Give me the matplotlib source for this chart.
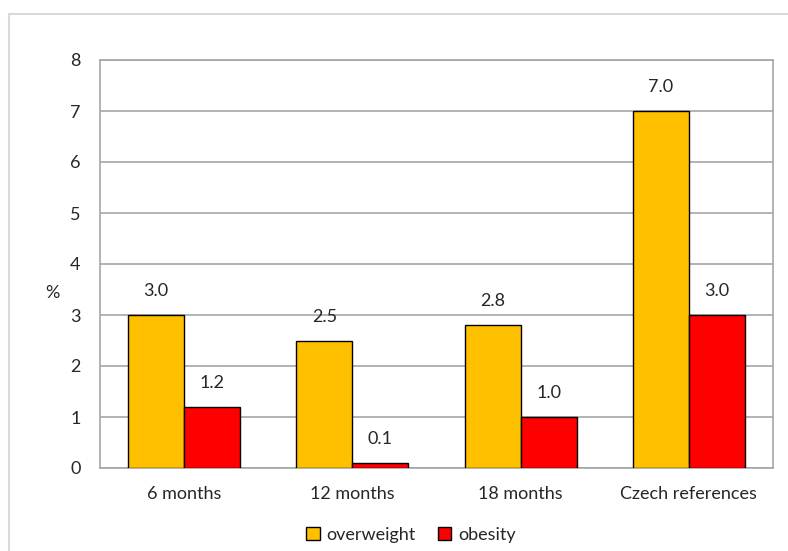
import matplotlib.pyplot as plt
import numpy as np
from matplotlib.patches import Rectangle

# dados
categorias = ["6 months", "12 months", "18 months", "Czech references"]
overweight = [3.0, 2.5, 2.8, 7.0]
obesity = [1.2, 0.1, 1.0, 3.0]
yticks = [0, 1, 2, 3, 4, 5, 6, 7, 8]

plt.rcParams['font.family'] = ['Lato', 'DejaVu Sans']
cor_texto = '#262626'
fs = 13

fig = plt.figure(figsize=(7.88, 5.51), dpi=100)
ax = fig.add_axes([100 / 788, 1 - 468 / 551, 673 / 788, 408 / 551])

# moldura cinza da figura
fig.patches.append(Rectangle((9 / 788, -0.01), 1.0, 1 - 14 / 551 + 0.01,
                             transform=fig.transFigure, fill=False,
                             edgecolor='#d9d9d9', linewidth=1.5))

x = np.arange(len(categorias))
w = 1 / 3
b1 = ax.bar(x - w / 2, overweight, w, color='#FFC000', edgecolor='black',
            linewidth=1, label='overweight', zorder=3)
b2 = ax.bar(x + w / 2, obesity, w, color='#FF0000', edgecolor='black',
            linewidth=1, label='obesity', zorder=3)

for barras in (b1, b2):
    for r in barras:
        ax.text(r.get_x() + r.get_width() / 2, r.get_height() + 0.47,
                f"{r.get_height():.1f}", ha='center', va='center',
                fontsize=fs, color=cor_texto)

ax.set_xlim(-0.5, 3.5)
ax.set_ylim(0, 8)
ax.set_yticks(yticks)
ax.set_xticks(x)
ax.set_xticklabels(categorias)
ax.tick_params(axis='both', length=0, labelsize=fs, colors=cor_texto)
ax.tick_params(axis='x', pad=13)
ax.tick_params(axis='y', pad=14)
ax.yaxis.grid(True, color='#a6a6a6', linewidth=1.2, zorder=0)
for s in ax.spines.values():
    s.set_color('#a6a6a6')
    s.set_linewidth(1.2)

fig.text(52 / 788, 1 - 293 / 551, '%', fontsize=fs, color=cor_texto,
         ha='center', va='center')

ax.legend(loc='center', bbox_to_anchor=(411 / 788, 1 - 535 / 551),
          bbox_transform=fig.transFigure, ncol=2, frameon=False,
          fontsize=fs, handlelength=0.75, handleheight=0.75,
          handletextpad=0.4, columnspacing=1.2, labelcolor=cor_texto,
          borderpad=0)

fig.savefig('out.png', dpi=100)
